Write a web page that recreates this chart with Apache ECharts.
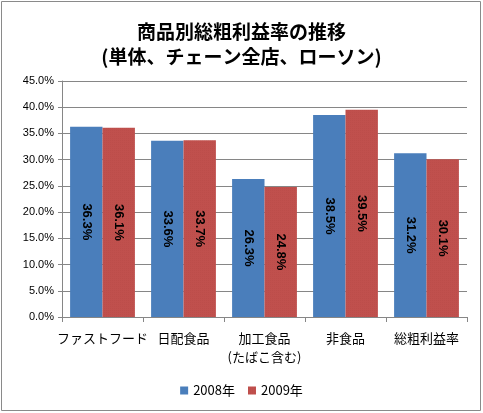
<!DOCTYPE html>
<html><head><meta charset="utf-8">
<script src="https://cdn.jsdelivr.net/npm/echarts@6/dist/echarts.min.js"></script>
<style>html,body{margin:0;padding:0;background:#fff}#c{width:483px;height:413px}</style>
</head><body><div id="c"></div>
<script>
const categories = ['ファストフード', '日配食品', '加工食品\n(たばこ含む)', '非食品', '総粗利益率'];
const values2008 = [36.3, 33.6, 26.3, 38.5, 31.2];
const values2009 = [36.1, 33.7, 24.8, 39.5, 30.1];
const seriesNames = ['2008年', '2009年'];
const titleText = '商品別総粗利益率の推移\n(単体、チェーン全店、ローソン)';

const FONT = '"Noto Sans CJK JP", "Noto Sans", sans-serif';
const chart = echarts.init(document.getElementById('c'), null, {renderer: 'canvas'});
const labelOpt = {
  show: true, position: 'inside', rotate: -90, color: '#000',
  fontSize: 13, fontWeight: 'bold', fontFamily: 'Liberation Sans, Arial, sans-serif',
  formatter: p => p.value.toFixed(1) + '%'
};
chart.setOption({
  animation: false,
  backgroundColor: '#fff',
  title: {
    text: titleText, left: 'center', top: 14,
    textStyle: {fontSize: 19, fontWeight: 'bold', color: '#000', fontFamily: FONT, lineHeight: 25}
  },
  graphic: [{type: 'rect', shape: {x: 1.5, y: 1.5, width: 479, height: 409},
    style: {fill: 'none', stroke: '#8a8a8a', lineWidth: 1}, silent: true}],
  legend: {
    bottom: 11, left: 'center', itemWidth: 8, itemHeight: 8, itemGap: 13,
    icon: 'rect',
    textStyle: {fontSize: 13, color: '#000', fontFamily: FONT},
    data: seriesNames
  },
  grid: {left: 62, right: 16, top: 81, bottom: 96},
  xAxis: {
    type: 'category', data: categories,
    axisLine: {lineStyle: {color: '#868686'}},
    axisTick: {show: true, length: 5, lineStyle: {color: '#868686'}},
    axisLabel: {color: '#000', fontSize: 13, fontFamily: FONT, margin: 12, lineHeight: 19, interval: 0}
  },
  yAxis: {
    type: 'value', min: 0, max: 45, interval: 5,
    axisLine: {show: true, lineStyle: {color: '#868686'}},
    axisTick: {show: true, length: 4, lineStyle: {color: '#868686'}},
    axisLabel: {color: '#000', fontSize: 11, fontFamily: 'Liberation Sans, Arial, sans-serif', margin: 8,
      formatter: v => v.toFixed(1) + '%'},
    splitLine: {lineStyle: {color: '#868686'}}
  },
  series: [
    {name: seriesNames[0], type: 'bar', data: values2008, barGap: '0%', barCategoryGap: '20%',
      itemStyle: {color: '#4a7ebb'}, label: labelOpt},
    {name: seriesNames[1], type: 'bar', data: values2009,
      itemStyle: {color: '#c0504d',
        decal: {symbol: 'rect', symbolSize: 0.5, color: 'rgba(150,40,40,0.3)', dashArrayX: [1, 1], dashArrayY: [1, 1], rotation: 0}},
      label: labelOpt}
  ]
});
</script></body></html>
